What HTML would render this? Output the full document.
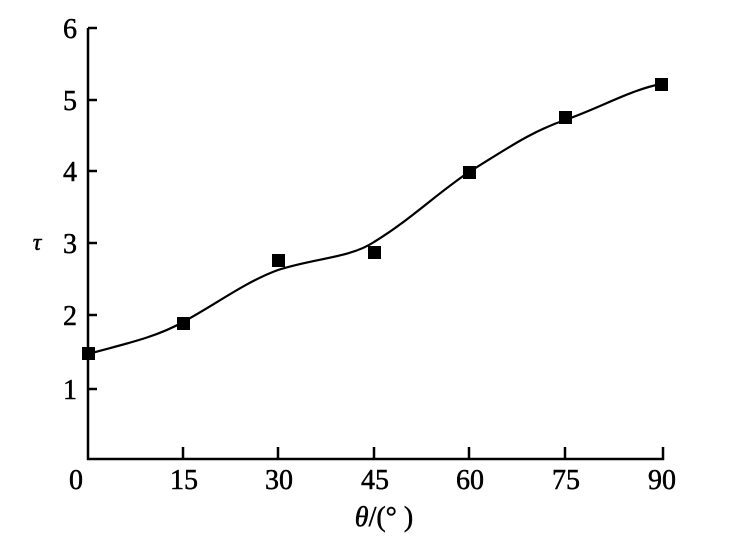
<!DOCTYPE html>
<html><head><style>body{margin:0;background:#fff}svg{display:block}</style></head><body>
<svg width="746" height="545" viewBox="0 0 746 545" xmlns="http://www.w3.org/2000/svg" font-family="Liberation Serif, serif" font-size="28">
<g stroke="#000" stroke-width="2.5" fill="none">
<path d="M88,28 V459 H663 V447"/>
<path d="M88,28 H97 M88,100 H97 M88,171 H97 M88,243 H97 M88,315 H97 M88,389 H97"/>
<path d="M183,459 V447 M278,459 V447 M374,459 V447 M469,459 V447 M565,459 V447"/>
<path stroke-width="2.2" d="M88,354 C120,345 155,338 183,322 C215,305 245,282 278,270 C315,258 350,258 374,242 C410,220 435,195 469,172 C505,150 530,132 565,120 C600,108 630,90 661,84"/>
</g>
<g fill="#000">
<rect x="82" y="347" width="13" height="13"/>
<rect x="177" y="317" width="13" height="13"/>
<rect x="272" y="254" width="13" height="13"/>
<rect x="368" y="246" width="13" height="13"/>
<rect x="463" y="166" width="13" height="13"/>
<rect x="559" y="111" width="13" height="13"/>
<rect x="655" y="78" width="13" height="13"/>
</g>
<g text-anchor="end" stroke="#000" stroke-width="0.5">
<text x="77" y="38">6</text><text x="77" y="110">5</text><text x="77" y="181">4</text>
<text x="77" y="253">3</text><text x="77" y="325">2</text><text x="77" y="399">1</text>
</g>
<g text-anchor="middle" stroke="#000" stroke-width="0.5">
<text x="76" y="489">0</text><text x="184" y="489">15</text><text x="279" y="489">30</text>
<text x="375" y="489">45</text><text x="470" y="489">60</text><text x="566" y="489">75</text>
<text x="662" y="489">90</text>
<text x="384" y="526"><tspan font-style="italic">θ</tspan>/(° )</text>
<text x="37" y="250" font-style="italic" font-size="24">τ</text>
</g>
</svg>
</body></html>
